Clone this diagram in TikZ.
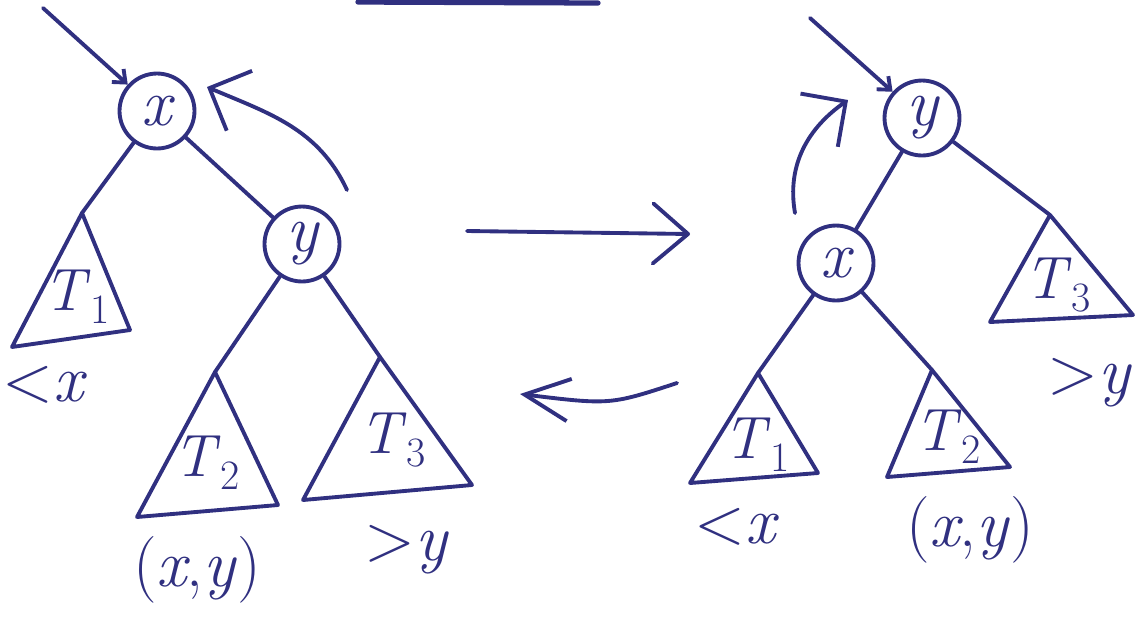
\documentclass[tikz,border=0pt]{standalone}
\usepackage{fontspec}
\usepackage{tikz}
\usetikzlibrary{arrows.meta}

\definecolor{ink}{RGB}{48,48,128}
\newcommand{\sub}[2]{\textit{#1}\textsubscript{#2}}

\begin{document}
\begin{tikzpicture}[
    x=0.02cm, y=-0.02cm,
    pen/.style={draw=ink, line width=2.2pt, line cap=round, line join=round},
    vertex/.style={circle, pen, minimum size=1.5cm, inner sep=0pt,
                   text=ink, font=\fontsize{38}{44}\selectfont\itshape},
    lbl/.style={text=ink, font=\fontsize{38}{44}\selectfont, inner sep=0pt},
    tree/.style={lbl, font=\fontsize{34}{40}\selectfont},
    edge/.style={pen},
    inarrow/.style={pen, -{Straight Barb[length=6pt,width=10pt]}},
    rot/.style={pen, -{Straight Barb[length=0.65cm,width=1.3cm]}},
    fwd/.style={pen, -{Straight Barb[length=0.7cm,width=1.2cm,round]}},
    back/.style={pen, -{Straight Barb[length=0.9cm,width=0.85cm]}}
  ]
  \useasboundingbox (0,0) rectangle (1138,623);

  % underline at the top
  \coordinate (ulA) at (358,2);
  \coordinate (ulB) at (598,3);
  \draw[pen, line width=3pt] (ulA) -- (ulB);

  % left tree
  \node[vertex] (xL) at (157,111) {x};
  \node[vertex] (yL) at (302,244) {y};
  \coordinate (inL) at (43,8);
  \coordinate (rotLs) at (347,190);
  \coordinate (rotLe) at (207,87);
  \coordinate (t1L) at (82,213);
  \coordinate (t2L) at (215,372);
  \coordinate (t3L) at (380,357);

  \draw[inarrow] (inL) -- (xL);
  \draw[rot] (rotLs) to[out=115,in=-23] (rotLe);
  \draw[edge] (xL) -- (t1L);
  \draw[edge] (xL) -- (yL);
  \draw[edge] (yL) -- (t2L);
  \draw[edge] (yL) -- (t3L);

  \draw[pen] (t1L) -- (12,347) -- (130,330) -- cycle;
  \draw[pen] (t2L) -- (137,517) -- (278,505) -- cycle;
  \draw[pen] (t3L) -- (303,500) -- (472,485) -- cycle;

  \node[tree] (T1L) at (77,297) {\sub{T}{1}};
  \node[tree] (T2L) at (207,463) {\sub{T}{2}};
  \node[tree] (T3L) at (393,440) {\sub{T}{3}};
  \node[lbl] (k1L) at (45,385) {<\textit{x}};
  \node[lbl] (k2L) at (197,570) {(\textit{x},\textit{y})};
  \node[lbl] (k3L) at (407,550) {>\textit{y}};

  % arrows between the trees
  \coordinate (fwdA) at (467,231);
  \coordinate (fwdB) at (690,234);
  \coordinate (backA) at (677,383);
  \coordinate (backB) at (520,394);
  \draw[fwd] (fwdA) -- (fwdB);
  \draw[back] (backA) .. controls (610,405) .. (backB);

  % right tree
  \node[vertex] (yR) at (922,118) {y};
  \node[vertex] (xR) at (836,263) {x};
  \coordinate (inR) at (810,18);
  \coordinate (rotRs) at (795,213);
  \coordinate (rotRe) at (848,100);
  \coordinate (t1R) at (758,373);
  \coordinate (t2R) at (932,370);
  \coordinate (t3R) at (1050,215);

  \draw[inarrow] (inR) -- (yR);
  \draw[rot] (rotRs) to[out=100,in=215] (rotRe);
  \draw[edge] (yR) -- (xR);
  \draw[edge] (yR) -- (t3R);
  \draw[edge] (xR) -- (t1R);
  \draw[edge] (xR) -- (t2R);

  \draw[pen] (t1R) -- (690,483) -- (818,473) -- cycle;
  \draw[pen] (t2R) -- (887,477) -- (1010,467) -- cycle;
  \draw[pen] (t3R) -- (990,322) -- (1133,315) -- cycle;

  \node[tree] (T1R) at (757,445) {\sub{T}{1}};
  \node[tree] (T2R) at (948,437) {\sub{T}{2}};
  \node[tree] (T3R) at (1058,285) {\sub{T}{3}};
  \node[lbl] (k1R) at (737,527) {<\textit{x}};
  \node[lbl] (k2R) at (970,530) {(\textit{x},\textit{y})};
  \node[lbl] (k3R) at (1090,383) {>\textit{y}};

\end{tikzpicture}
\end{document}
